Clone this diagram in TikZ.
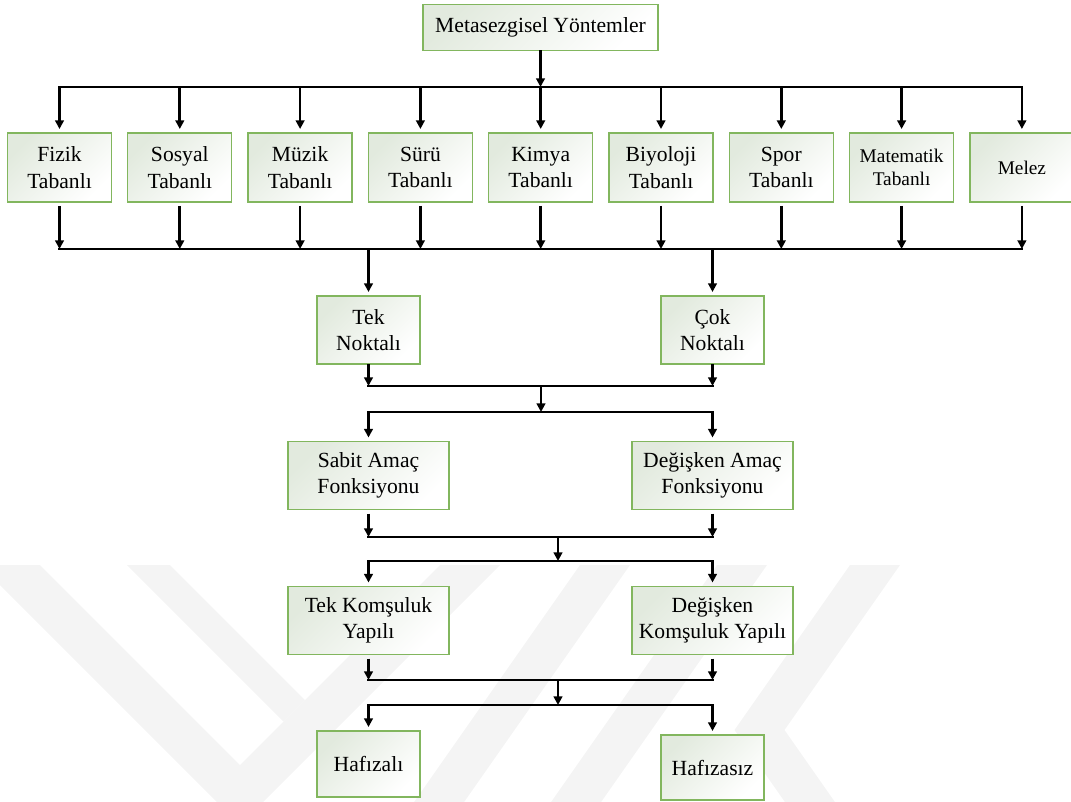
\documentclass[tikz,border=0pt]{standalone}
\usepackage{fontspec}
\setmainfont{Liberation Serif}
\usetikzlibrary{arrows.meta}
\definecolor{boxline}{RGB}{130,182,94}
\definecolor{boxshade}{RGB}{226,234,222}
\definecolor{markgray}{RGB}{244,244,244}

\begin{document}
\begin{tikzpicture}[x=0.75pt,y=-0.75pt,
  box/.style={draw=boxline, line width=1pt, top color=boxshade, bottom color=white,
    shading angle=45, inner sep=0pt, outer sep=0pt, align=center,
    font=\fontsize{16.2}{19.9}\selectfont},
  smalltext/.style={font=\fontsize{14.5}{17.5}\selectfont},
  rowbox/.style={box, minimum width=78pt, minimum height=51.75pt},
  midbox/.style={box, minimum width=77.25pt, minimum height=51pt},
  widebox/.style={box, minimum width=120.75pt, minimum height=51pt},
  arr/.style={line width=2pt, -{Triangle[length=6.5pt,width=6.5pt]}},
  bus/.style={line width=2.2pt, line cap=rect},
  gapin/.style={shorten >=3pt},
  gapout/.style={shorten <=3pt},
  wmark/.style={fill=markgray, draw=none}]

\useasboundingbox (0,0) rectangle (1071,802);

% faint background emblem
\fill[wmark] (-20,565) -- (40,565) -- (240,765) -- (440,565) -- (500,565) -- (240,825) -- cycle;
\fill[wmark] (127,565) -- (170,565) -- (305,700) -- (283.5,721.5) -- cycle;
\fill[wmark] (580,565) -- (630,565) -- (420,865) -- (370,865) -- cycle;
\fill[wmark] (717,565) -- (767,565) -- (557,865) -- (507,865) -- cycle;
\fill[wmark] (850,565) -- (900,565) -- (784.5,730) -- (879,865) -- (829,865) -- (734.5,730) -- cycle;

% boxes
\node[box, minimum width=176.25pt, minimum height=34.5pt] (top) at (540.5,27.5) {Metasezgisel Yöntemler};

\node[rowbox] (fizik)     at (59.5,167.5)  {Fizik\\Tabanlı};
\node[rowbox] (sosyal)    at (179.8,167.5) {Sosyal\\Tabanlı};
\node[rowbox] (muzik)     at (300.1,167.5) {Müzik\\Tabanlı};
\node[rowbox] (suru)      at (420.4,167.5) {Sürü\\Tabanlı};
\node[rowbox] (kimya)     at (540.7,167.5) {Kimya\\Tabanlı};
\node[rowbox] (biyoloji)  at (661.0,167.5) {Biyoloji\\Tabanlı};
\node[rowbox] (spor)      at (781.3,167.5) {Spor\\Tabanlı};
\node[rowbox, smalltext] (matematik) at (901.6,167.5) {Matematik\\Tabanlı};
\node[rowbox, smalltext] (melez)     at (1021.9,167.5) {Melez};

\node[midbox] (tek) at (368.5,330) {Tek\\Noktalı};
\node[midbox] (cok) at (712.5,330) {Çok\\Noktalı};

\node[widebox] (sabit)  at (368.5,475.5) {Sabit Amaç\\Fonksiyonu};
\node[widebox] (degamac) at (712.5,475.5) {Değişken Amaç\\Fonksiyonu};

\node[widebox] (tekkom) at (368.5,620.5) {Tek Komşuluk\\Yapılı};
\node[widebox] (degkom) at (712.5,620.5) {Değişken\\Komşuluk Yapılı};

\node[midbox, minimum height=49.5pt] (hafizali)  at (368.5,764)   {Hafızalı};
\node[midbox, minimum height=48.75pt] (hafizasiz) at (712.5,767.5) {Hafızasız};

% bus levels
\coordinate (b1) at (0,87);
\coordinate (b2) at (0,249);
\coordinate (b3) at (0,386);
\coordinate (b4) at (0,412);
\coordinate (b5) at (0,537);
\coordinate (b6) at (0,561);
\coordinate (b7) at (0,680);
\coordinate (b8) at (0,705);
\coordinate (m1) at (541,0);
\coordinate (m2) at (558,0);

% top level
\draw[arr] (top.south) -- (top |- b1);
\draw[bus] (fizik |- b1) -- (melez |- b1);
\foreach \n in {fizik,sosyal,muzik,suru,kimya,biyoloji,spor,matematik,melez}{
  \draw[arr, gapin] (\n |- b1) -- (\n.north);
  \draw[arr, gapout] (\n.south) -- (\n |- b2);
}
\draw[bus] (fizik |- b2) -- (melez |- b2);

% single / multi point
\draw[arr, gapin] (tek |- b2) -- (tek.north);
\draw[arr, gapin] (cok |- b2) -- (cok.north);
\draw[arr] (tek.south) -- (tek |- b3);
\draw[arr] (cok.south) -- (cok |- b3);
\draw[bus] (tek |- b3) -- (cok |- b3);
\draw[arr] (m1 |- b3) -- (m1 |- b4);
\draw[bus] (tek |- b4) -- (cok |- b4);

% objective function
\draw[arr, gapin] (sabit |- b4) -- (sabit.north);
\draw[arr, gapin] (degamac |- b4) -- (degamac.north);
\draw[arr, gapout] (sabit.south) -- (sabit |- b5);
\draw[arr, gapout] (degamac.south) -- (degamac |- b5);
\draw[bus] (sabit |- b5) -- (degamac |- b5);
\draw[arr] (m2 |- b5) -- (m2 |- b6);
\draw[bus] (sabit |- b6) -- (degamac |- b6);

% neighbourhood structure
\draw[arr, gapin] (tekkom |- b6) -- (tekkom.north);
\draw[arr, gapin] (degkom |- b6) -- (degkom.north);
\draw[arr, gapout] (tekkom.south) -- (tekkom |- b7);
\draw[arr, gapout] (degkom.south) -- (degkom |- b7);
\draw[bus] (tekkom |- b7) -- (degkom |- b7);
\draw[arr] (m2 |- b7) -- (m2 |- b8);
\draw[bus] (tekkom |- b8) -- (degkom |- b8);

% memory
\draw[arr, gapin] (hafizali |- b8) -- (hafizali.north);
\draw[arr, gapin] (hafizasiz |- b8) -- (hafizasiz.north);

\end{tikzpicture}
\end{document}
